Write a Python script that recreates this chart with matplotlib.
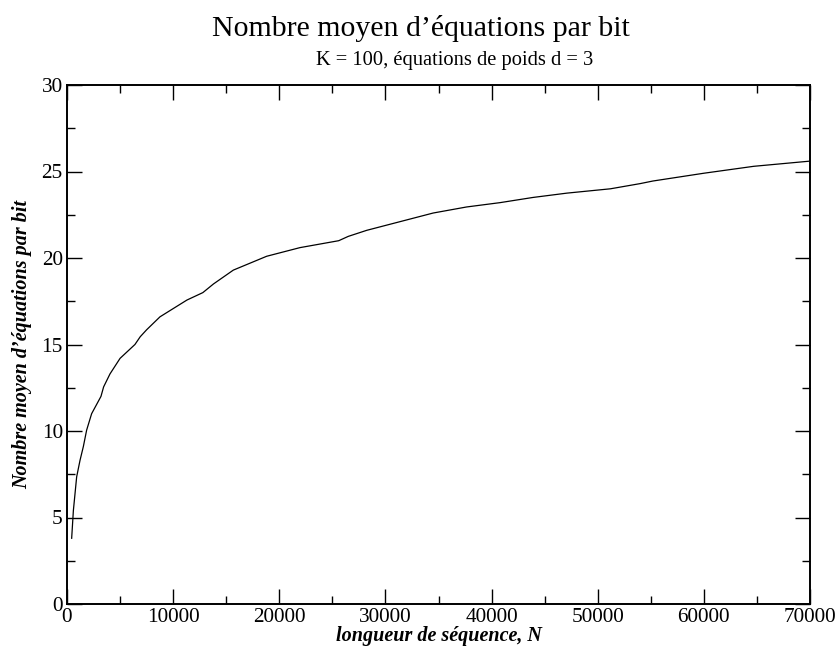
import matplotlib

matplotlib.use("Agg")
import matplotlib.pyplot as plt
from matplotlib.ticker import MultipleLocator

# values
seq_len = [440, 600, 910, 1225, 1540, 1850, 2320, 3200, 3450, 4050, 5000,
           6400, 6900, 7500, 8760, 10330, 11300, 12800, 13800, 15670, 18810,
           21950, 25600, 26500, 28240, 31370, 34500, 37650, 40800, 43900,
           47100, 51200, 54000, 55200, 60000, 64700, 70000]
eq_per_bit = [3.8, 5.4, 7.35, 8.3, 9.1, 10.05, 11.0, 12.0, 12.55, 13.3, 14.2,
              15.0, 15.45, 15.85, 16.6, 17.2, 17.57, 18.0, 18.5, 19.3, 20.1,
              20.6, 21.0, 21.25, 21.6, 22.1, 22.6, 22.95, 23.2, 23.5,
              23.75, 24.0, 24.3, 24.45, 24.9, 25.3, 25.6]

title = "Nombre moyen d\u2019\u00e9quations par bit"
subtitle = "K = 100, \u00e9quations de poids d = 3"
xlabel = "longueur de s\u00e9quence, N"
ylabel = "Nombre moyen d\u2019\u00e9quations par bit"

plt.rcParams["font.family"] = ["Liberation Serif", "DejaVu Serif"]

W, H = 838, 654
fig = plt.figure(figsize=(W / 100, H / 100), dpi=100)
ax = fig.add_axes([67 / W, 1 - 604 / H, (810 - 67) / W, (604 - 85) / H])

ax.plot(seq_len, eq_per_bit, color="black", linewidth=0.9)

ax.set_xlim(0, 70000)
ax.set_ylim(0, 30)
ax.xaxis.set_major_locator(MultipleLocator(10000))
ax.xaxis.set_minor_locator(MultipleLocator(5000))
ax.yaxis.set_major_locator(MultipleLocator(5))
ax.yaxis.set_minor_locator(MultipleLocator(2.5))
ax.tick_params(which="both", direction="in", top=True, right=True,
               labelsize=15.3, width=1.0, pad=3)
ax.tick_params(which="major", length=11)
ax.tick_params(which="minor", length=5.5)
for sp in ax.spines.values():
    sp.set_linewidth(1.4)

ax.set_xlabel(xlabel, fontsize=14.5, fontweight="bold", fontstyle="italic",
              labelpad=-0.5)
ax.set_ylabel(ylabel, fontsize=14.5, fontweight="bold", fontstyle="italic",
              labelpad=7)

fig.text(421 / W, 1 - 28 / H, title, ha="center", va="center", fontsize=21.5)
fig.text(455 / W, 1 - 60 / H, subtitle, ha="center", va="center", fontsize=14.8)

fig.savefig("out.png", dpi=100)
